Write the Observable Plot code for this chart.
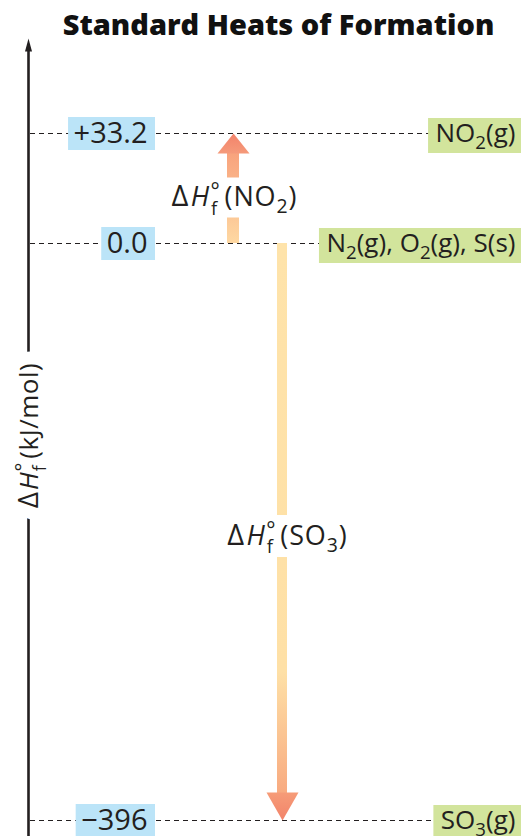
<!DOCTYPE html>
<html><head><meta charset="utf-8">
<script src="https://cdn.jsdelivr.net/npm/d3@7"></script>
<script src="https://cdn.jsdelivr.net/npm/@observablehq/plot@0.6"></script>
<style>
body{margin:0;background:#fff;}
#wrap{position:relative;width:521px;height:836px;overflow:hidden;}
#title{position:absolute;left:0;top:4px;width:521px;padding-left:36px;box-sizing:border-box;text-align:center;font-family:"Open Sans",sans-serif;font-weight:800;font-size:29px;color:#111;white-space:nowrap;}
#chart{position:absolute;left:0;top:0;}
</style></head><body><div id="wrap"><div id="chart"></div><div id="title">Standard Heats of Formation</div></div>
<script>
// ---- data ----
const levels = [33.2, 0, -396];
const valueLabels = ["+33.2", "0.0", "\u2212396"];
const species = ["NO2(g)", "N2(g), O2(g), S(s)", "SO3(g)"];
const changes = ["NO2", "SO3"];
const changeFrom = [0, 0];
const changeTo = [33.2, -396];
const axisLabel = "\u0394H\u00b0f (kJ/mol)";

// ---- styling ----
const ink = "#231f20";
const blue = "#bbe4f8";
const green = "#d2e49c";
const FONT = '"Open Sans"';
const arrows = changes.map((c, i) => ({name: c, from: changeFrom[i], to: changeTo[i], label: "\u0394Hf(" + c + ")"}));

const cv = document.createElement("canvas").getContext("2d");
function chemParts(s, size) {
  const parts = []; let base = 0; const re = /(\d+)|([^\d]+)/g; let m;
  while ((m = re.exec(s))) {
    if (m[1]) { const d = size * 0.26; parts.push({t: m[1], size: size * 0.72, dy: d - base}); base = d; }
    else { parts.push({t: m[2], size, dy: -base}); base = 0; }
  }
  return parts;
}
function measure(parts) {
  let w = 0;
  for (const p of parts) { cv.font = `${p.italic ? "italic " : ""}${p.size}px ${FONT}`; w += cv.measureText(p.t).width + (p.dx || 0); }
  return w;
}
function deltaParts(inner, size) {
  const s = size;
  const p = [
    {t: "\u0394", size: s * 1.08},
    {t: "H", size: s, italic: true, dx: s * 0.05},
    {t: "\u00b0", size: s * 0.8, dy: -s * 0.3, dx: s * 0.02},
    {t: "f", size: s * 0.68, dx: -s * 0.36, dy: s * 0.62},
  ];
  const rest = chemParts(inner, s);
  rest[0].dy = (rest[0].dy || 0) - s * 0.32;
  rest[0].dx = s * 0.24;
  return p.concat(rest);
}
function setRich(el, parts, spacing) {
  const sel = d3.select(el); sel.text(null);
  if (spacing) sel.attr("letter-spacing", spacing);
  for (const p of parts) {
    const ts = sel.append("tspan").text(p.t).attr("font-size", p.size);
    if (p.dy) ts.attr("dy", p.dy);
    if (p.dx) ts.attr("dx", p.dx);
    if (p.italic) ts.attr("font-style", "italic");
  }
}

const VALUE_SIZE = 29, SPECIES_SIZE = 26, ARROW_SIZE = 27, AXIS_SIZE = 26;
const valueW = valueLabels.map(s => { cv.font = `${VALUE_SIZE}px ${FONT}`; return cv.measureText(s).width; });
const speciesW = species.map(s => measure(chemParts(s, SPECIES_SIZE)));

const shaftX = {NO2: [227, 239], SO3: [277, 287]};
const cx = d => (shaftX[d.name][0] + shaftX[d.name][1]) / 2;

function defs() {
  const g = d3.create("svg:defs");
  const grad = (id, stops) => {
    const lg = g.append("linearGradient").attr("id", id).attr("x1", 0).attr("y1", 0).attr("x2", 0).attr("y2", 1);
    for (const [o, c] of stops) lg.append("stop").attr("offset", o).attr("stop-color", c);
  };
  grad("shaft-SO3", [[0, "#fee3aa"], [0.78, "#fee0a6"], [1, "#f8aa80"]]);
  grad("head-SO3", [[0, "#f69c78"], [1, "#f2836a"]]);
  grad("shaft-NO2", [[0, "#f8a27c"], [1, "#fed8a2"]]);
  grad("head-NO2", [[0, "#f3826a"], [1, "#f59a7a"]]);
  return g.node();
}
const upHead = {draw(c) { c.moveTo(0, 0); c.lineTo(16, 20); c.lineTo(-16, 20); c.closePath(); }};
const downHead = {draw(c) { c.moveTo(0, 0); c.lineTo(16, -28); c.lineTo(-16, -28); c.closePath(); }};
const axisHead = {draw(c) { c.moveTo(0, 0); c.lineTo(3.5, 13); c.lineTo(-3.5, 13); c.closePath(); }};

const no2 = arrows.filter(d => d.name === "NO2");
const so3 = arrows.filter(d => d.name === "SO3");

const svg = Plot.plot({
  width: 521, height: 836,
  marginTop: 0, marginRight: 0, marginBottom: 0, marginLeft: 0,
  x: {type: "linear", domain: [0, 521], range: [0, 521], axis: null},
  y: {type: "linear", domain: [-396, 0, 33.2], range: [820, 243, 133], axis: null},
  style: {fontFamily: FONT, color: ink, background: "white", overflow: "visible"},
  marks: [
    defs,
    // dashed level lines
    Plot.ruleY(levels, {y: d => d, x1: 30, x2: 515, stroke: ink, strokeWidth: 1.1, strokeDasharray: "5,4"}),
    // vertical axis
    Plot.ruleX([28], {x: d => d, insetTop: 48, stroke: ink, strokeWidth: 2.6}),
    Plot.dot([28], {x: d => d, frameAnchor: "top", dy: 38, symbol: axisHead, fill: ink}),
    Plot.text([axisLabel], {x: 29, text: d => d, rotate: -90, dy: 17, fontSize: AXIS_SIZE, fill: "white", stroke: "white", strokeWidth: 26}),
    Plot.text([axisLabel], {x: 29, text: d => d, rotate: -90, dy: 17, fontSize: AXIS_SIZE, fill: ink}),
    // arrow shafts
    Plot.rect(no2, {x1: d => shaftX[d.name][0], x2: d => shaftX[d.name][1], y1: "from", y2: "to", insetTop: 19, fill: "url(#shaft-NO2)"}),
    Plot.rect(so3, {x1: d => shaftX[d.name][0], x2: d => shaftX[d.name][1], y1: "from", y2: "to", insetBottom: 27, fill: "url(#shaft-SO3)"}),
    // arrow heads
    Plot.dot(no2, {x: cx, y: "to", symbol: upHead, fill: "url(#head-NO2)"}),
    Plot.dot(so3, {x: cx, y: "to", symbol: downHead, fill: "url(#head-SO3)"}),
    // label gaps
    Plot.ruleY(no2, {y: d => (d.from + d.to) / 2, x1: 224, x2: 242, dy: 9, stroke: "white", strokeWidth: 40}),
    Plot.ruleY(so3, {y: d => (d.from + d.to) / 2, x1: 274, x2: 290, dy: 4, stroke: "white", strokeWidth: 42}),
    // arrow labels
    Plot.text(no2, {x: d => cx(d) + 1, y: d => (d.from + d.to) / 2, dy: 9, text: "label", fontSize: ARROW_SIZE, fill: ink}),
    Plot.text(so3, {x: d => cx(d) + 5, y: d => (d.from + d.to) / 2, dy: 4, text: "label", fontSize: ARROW_SIZE, fill: ink}),
    // value boxes + labels
    Plot.ruleY(levels, {y: d => d, x1: (d, i) => 147 - valueW[i] - 5, x2: 155, stroke: blue, strokeWidth: 33}),
    Plot.text(levels, {y: d => d, x: 147, text: (d, i) => valueLabels[i], textAnchor: "end", fontSize: VALUE_SIZE, fill: ink}),
    // species boxes + labels
    Plot.ruleY(levels, {y: d => d, x1: (d, i) => 515 - speciesW[i] - 7, x2: 521, dy: 2, stroke: green, strokeWidth: 35}),
    Plot.text(levels, {y: d => d, x: 515, text: (d, i) => species[i], textAnchor: "end", fontSize: SPECIES_SIZE, fill: ink, dy: 0})
  ]
});

// rich text: subscripts, italic H, degree sign
svg.querySelectorAll("text").forEach(el => {
  const t = el.textContent;
  if (species.includes(t)) setRich(el, chemParts(t, SPECIES_SIZE));
  else if (t === axisLabel) setRich(el, deltaParts("(kJ/mol)", AXIS_SIZE), 0.5);
  else {
    const a = arrows.find(d => d.label === t);
    if (a) setRich(el, deltaParts("(" + a.name + ")", ARROW_SIZE), 0.9);
  }
});
document.getElementById("chart").appendChild(svg);
</script>
</body></html>
